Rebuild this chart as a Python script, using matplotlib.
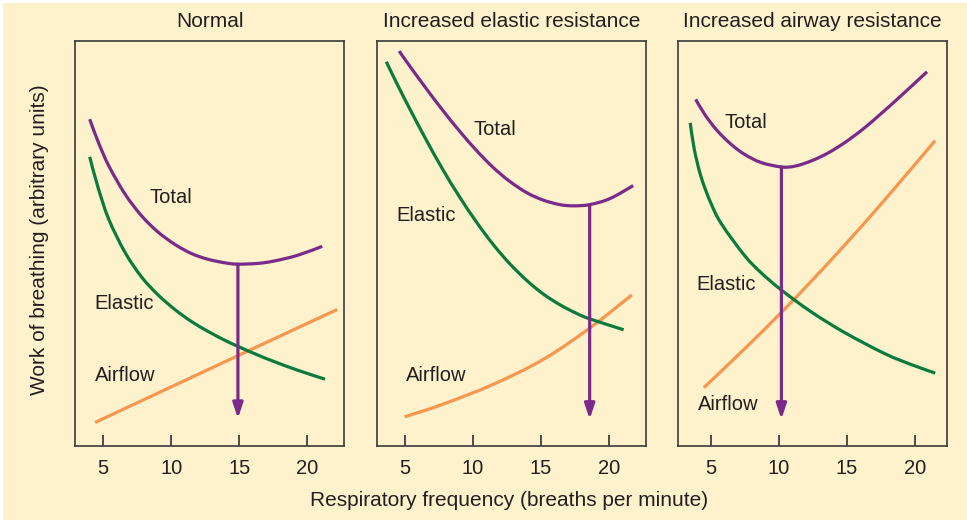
import numpy as np
import matplotlib.pyplot as plt
from matplotlib.patches import Rectangle, PathPatch
from matplotlib.path import Path

plt.rcParams['font.family'] = ['Liberation Sans', 'DejaVu Sans']

# ---------------------------------------------
# Data (y in arbitrary units, 0-100)
# ---------------------------------------------
titles = ['Normal', 'Increased elastic resistance', 'Increased airway resistance']
tick_vals = [5, 10, 15, 20]

# Normal
n_total_f = [4.0, 4.6, 5.4, 6.6, 7.8, 9.0, 10.3, 11.5, 12.7, 14.0, 14.9, 16.4, 17.6, 19.3, 21.1]
n_total = [80.7, 75.3, 69.2, 62.2, 56.9, 52.9, 49.7, 47.5, 46.1, 45.2, 44.9, 45.1, 45.7, 47.1, 49.3]
n_elastic_f = [4.0, 4.6, 5.4, 6.6, 7.8, 9.0, 10.3, 11.5, 12.7, 14.0, 14.9, 16.4, 17.6, 19.3, 21.3]
n_elastic = [71.4, 64.0, 56.0, 47.8, 41.8, 37.4, 33.6, 30.7, 28.3, 26.0, 24.6, 22.4, 20.8, 18.7, 16.5]
n_airflow_f = [4.4, 14.9, 22.2]
n_airflow = [5.8, 22.3, 33.7]

# Increased elastic resistance
e_total_f = [4.6, 5.4, 6.6, 7.8, 9.0, 10.3, 11.5, 12.7, 14.0, 15.2, 16.4, 17.4, 18.6, 20.1, 21.8]
e_total = [97.5, 93.7, 88.2, 82.9, 77.9, 72.9, 68.8, 65.4, 62.5, 60.7, 59.6, 59.3, 59.6, 61.1, 64.3]
e_elastic_f = [3.65, 4.4, 5.4, 6.6, 7.8, 9.0, 10.3, 11.5, 12.7, 14.0, 15.2, 16.4, 17.6, 18.6, 21.1]
e_elastic = [94.9, 89.7, 83.1, 75.5, 68.3, 61.7, 55.2, 49.8, 45.1, 40.8, 37.5, 34.9, 32.8, 31.4, 28.7]
e_airflow_f = [5.0, 7.8, 11.5, 15.2, 18.6, 21.7]
e_airflow = [7.2, 10.3, 15.2, 21.4, 29.1, 37.3]

# Increased airway resistance
a_total_f = [3.9, 4.6, 5.5, 6.5, 7.5, 8.7, 10.2, 11.2, 12.4, 13.6, 14.85, 16.1, 17.3, 19.0, 20.9]
a_total = [85.6, 81.7, 77.8, 74.5, 72.0, 70.0, 68.9, 69.1, 70.4, 72.3, 74.9, 78.0, 81.4, 86.5, 92.4]
a_elastic_f = [3.5, 3.8, 4.3, 5.0, 5.8, 7.5, 8.7, 10.2, 12.4, 14.85, 17.8, 19.75, 21.5]
a_elastic = [79.8, 73.2, 66.4, 60.1, 54.8, 47.0, 42.8, 38.5, 33.1, 28.0, 22.8, 20.1, 18.0]
a_airflow_f = [4.5, 7.5, 10.2, 12.4, 14.85, 17.8, 21.5]
a_airflow = [14.4, 24.0, 33.0, 40.7, 49.6, 60.8, 75.4]

# optimal frequency arrows: x, start (total minimum), tip
arrow_f = [14.9, 18.6, 10.2]
arrow_top = [44.9, 59.4, 68.9]
arrow_tip = [6.8, 6.6, 6.6]

# curve label positions (f, y) per panel: Total, Elastic, Airflow
label_pos = [
    [(10.0, 61.4), (6.5, 35.2), (6.6, 17.3)],
    [(11.6, 78.2), (6.6, 56.8), (7.3, 17.3)],
    [(7.6, 79.8), (6.15, 39.9), (6.3, 10.3)],
]

panels = [
    (n_total_f, n_total, n_elastic_f, n_elastic, n_airflow_f, n_airflow),
    (e_total_f, e_total, e_elastic_f, e_elastic, e_airflow_f, e_airflow),
    (a_total_f, a_total, a_elastic_f, a_elastic, a_airflow_f, a_airflow),
]
xlims = [(2.92, 22.7), (2.97, 22.74), (2.6, 22.37)]
lefts_px = [75, 377, 678]

BG = '#FDF2CB'
PURPLE = '#7A2A8A'
GREEN = '#0B7A3D'
ORANGE = '#F7964F'
TEXT = '#231F20'
LW = 2.3


def smooth_curve(ax, xs, ys, color):
    # draw the read points as one smooth bezier path (Catmull-Rom style)
    pts = np.column_stack([xs, ys])
    verts = [pts[0]]
    codes = [Path.MOVETO]
    n = len(pts)
    for k in range(n - 1):
        p0 = pts[k - 1] if k > 0 else pts[k]
        p1, p2 = pts[k], pts[k + 1]
        p3 = pts[k + 2] if k + 2 < n else pts[k + 1]
        verts += [p1 + (p2 - p0) / 6, p2 - (p3 - p1) / 6, p2]
        codes += [Path.CURVE4] * 3
    ax.add_patch(PathPatch(Path(verts, codes), facecolor='none', edgecolor=color,
                           lw=LW, capstyle='butt'))


W, H = 967, 520
fig = plt.figure(figsize=(W / 100, H / 100), dpi=100)
fig.patch.set_facecolor('white')
fig.add_artist(Rectangle((3 / W, 0), 1, 1 - 3 / H, transform=fig.transFigure,
                         facecolor=BG, edgecolor='none', zorder=0))

for i, (tf, tv, ef, ev, af, av) in enumerate(panels):
    ax = fig.add_axes([lefts_px[i] / W, (H - 446) / H, 269 / W, 405 / H])
    ax.set_facecolor(BG)
    smooth_curve(ax, af, av, ORANGE)
    smooth_curve(ax, ef, ev, GREEN)
    smooth_curve(ax, tf, tv, PURPLE)
    ax.annotate('', xy=(arrow_f[i], arrow_tip[i]), xytext=(arrow_f[i], arrow_top[i]),
                arrowprops=dict(arrowstyle='-|>,head_length=0.9,head_width=0.3',
                                color=PURPLE, lw=LW, shrinkA=0, shrinkB=0))
    for name, (lx, ly) in zip(['Total', 'Elastic', 'Airflow'], label_pos[i]):
        ax.text(lx, ly, name, ha='center', va='center', fontsize=14.5, color=TEXT)

    ax.set_xlim(*xlims[i])
    ax.set_ylim(0, 100)
    ax.set_xticks(tick_vals)
    ax.set_xticklabels([str(t) for t in tick_vals])
    ax.set_yticks([])
    ax.tick_params(axis='x', direction='in', length=8, width=1.1, pad=9,
                   labelsize=14.5, colors=TEXT)
    for s in ax.spines.values():
        s.set_color('#3a3a3a')
        s.set_linewidth(1.2)
    ax.set_title(titles[i], fontsize=15, color=TEXT, pad=10)

fig.text(509 / W, 1 - 500 / H, 'Respiratory frequency (breaths per minute)',
         ha='center', va='center', fontsize=15, color=TEXT)
fig.text(40 / W, 1 - 240 / H, 'Work of breathing (arbitrary units)',
         ha='center', va='center', rotation=90, fontsize=15, color=TEXT)

fig.savefig('out.png', dpi=100, facecolor=fig.get_facecolor())
